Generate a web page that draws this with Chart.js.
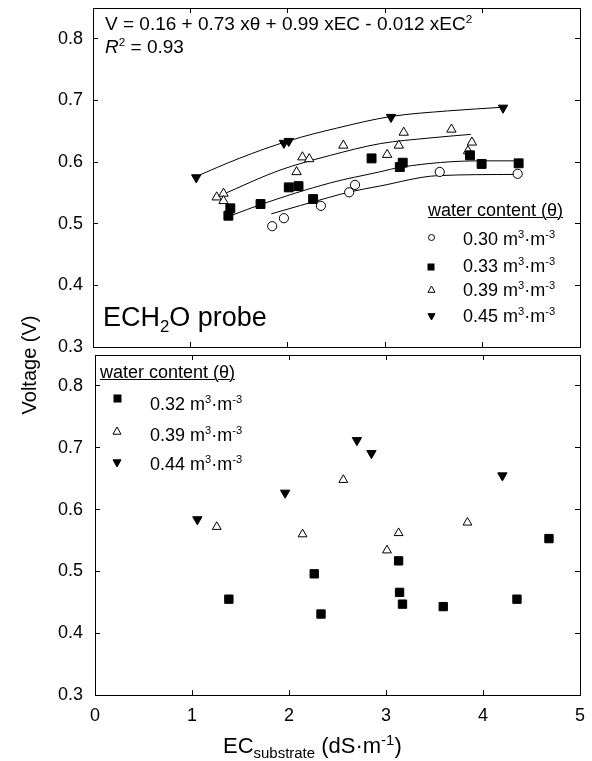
<!DOCTYPE html>
<html>
<head>
<meta charset="utf-8">
<title>ECH2O probe voltage vs substrate EC</title>
<script src="https://cdn.jsdelivr.net/npm/chart.js@4.4.1/dist/chart.umd.min.js"></script>
<style>
  html, body { margin: 0; padding: 0; background: #fff; }
  #wrap { position: relative; width: 592px; height: 761px; overflow: hidden;
          font-family: "Liberation Sans", Arial, sans-serif; color: #000; }
  canvas { position: absolute; left: 0; }
  #topChart { top: 0; }
  #bottomChart { top: 348px; }
  .txt { position: absolute; white-space: nowrap; line-height: 1; font-size: 18px; }
  .txt sup, .txt sub { font-size: 0.62em; line-height: 0; }
  .u { text-decoration: underline; text-decoration-thickness: 1px; }
  .mk { position: absolute; overflow: visible; }
</style>
</head>
<body>
<div id="wrap">
  <canvas id="topChart" width="592" height="360"></canvas>
  <canvas id="bottomChart" width="592" height="413"></canvas>

  <div class="txt" style="left:105px; top:14px; font-size:19px">V = 0.16 + 0.73 x&theta; + 0.99 xEC - 0.012 xEC<sup>2</sup></div>
  <div class="txt" style="left:105px; top:37px; font-size:19px"><i>R</i><sup>2</sup> = 0.93</div>
  <div class="txt" style="left:103px; top:304px; font-size:27px">ECH<sub>2</sub>O probe</div>

  <div class="txt u" style="left:428px; top:201px">water content (&theta;)</div>
  <div class="txt" style="left:463px; top:230px">0.30 m<sup>3</sup>&middot;m<sup>-3</sup></div>
  <div class="txt" style="left:463px; top:257px">0.33 m<sup>3</sup>&middot;m<sup>-3</sup></div>
  <div class="txt" style="left:463px; top:281px">0.39 m<sup>3</sup>&middot;m<sup>-3</sup></div>
  <div class="txt" style="left:463px; top:307px">0.45 m<sup>3</sup>&middot;m<sup>-3</sup></div>

  <div class="txt u" style="left:100px; top:363px">water content (&theta;)</div>
  <div class="txt" style="left:150px; top:395px">0.32 m<sup>3</sup>&middot;m<sup>-3</sup></div>
  <div class="txt" style="left:150px; top:426px">0.39 m<sup>3</sup>&middot;m<sup>-3</sup></div>
  <div class="txt" style="left:150px; top:455px">0.44 m<sup>3</sup>&middot;m<sup>-3</sup></div>

  <div class="txt" style="left:29px; top:365px; font-size:20px; transform: translate(-50%, -50%) rotate(-90deg)">Voltage (V)</div>
  <div class="txt" style="left:223px; top:735px; font-size:22px">EC<sub style="font-size:0.68em">substrate</sub> (dS&middot;m<sup style="font-size:0.68em">-1</sup>)</div>
</div>

<script>
// top panel: ECH2O probe, measured points
const ec30 = [1.84, 1.96, 2.34, 2.63, 2.69, 3.56, 4.36];
const v30 = [0.496, 0.509, 0.529, 0.551, 0.563, 0.584, 0.581];
const ec33 = [1.39, 1.41, 1.72, 2.01, 2.11, 2.26, 2.86, 3.15, 3.18, 3.87, 3.99, 4.37];
const v33 = [0.513, 0.525, 0.532, 0.559, 0.561, 0.540, 0.606, 0.592, 0.599, 0.611, 0.597, 0.598];
const ec39 = [1.27, 1.34, 1.34, 2.09, 2.15, 2.22, 2.57, 3.02, 3.14, 3.19, 3.68, 3.85, 3.89];
const v39 = [0.543, 0.549, 0.537, 0.584, 0.608, 0.605, 0.627, 0.612, 0.627, 0.648, 0.653, 0.618, 0.632];
const ec45 = [1.06, 1.96, 2.01, 3.06, 4.21];
const v45 = [0.575, 0.631, 0.634, 0.673, 0.688];

// top panel: fitted curves
const fitEc30 = [1.83, 2.43, 2.62, 2.94, 3.54, 4.34];
const fitV30 = [0.516, 0.543, 0.551, 0.561, 0.578, 0.580];
const fitEc33 = [1.43, 1.72, 2.43, 2.94, 3.17, 3.97, 4.35];
const fitV33 = [0.514, 0.531, 0.566, 0.584, 0.592, 0.602, 0.602];
const fitEc39 = [1.31, 1.92, 2.44, 2.95, 3.45, 3.88];
const fitV39 = [0.546, 0.587, 0.611, 0.630, 0.639, 0.645];
const fitEc45 = [1.05, 1.5, 2.02, 2.5, 3.06, 3.64, 4.21];
const fitV45 = [0.576, 0.606, 0.635, 0.655, 0.674, 0.683, 0.689];

// bottom panel
const ec32 = [1.38, 2.26, 2.33, 3.13, 3.14, 3.17, 3.59, 4.35, 4.68];
const v32 = [0.455, 0.496, 0.431, 0.517, 0.466, 0.447, 0.443, 0.455, 0.553];
const ec39b = [1.255, 2.14, 2.56, 3.01, 3.13, 3.84];
const v39b = [0.572, 0.560, 0.648, 0.534, 0.562, 0.579];
const ec44 = [1.055, 1.96, 2.70, 2.85, 4.20];
const v44 = [0.584, 0.627, 0.712, 0.691, 0.655];

const xTicks = [0, 1, 2, 3, 4, 5];
const yTicks = [0.3, 0.4, 0.5, 0.6, 0.7, 0.8];

document.addEventListener("DOMContentLoaded", () => {
    Chart.defaults.font.family = '"Liberation Sans", Arial, sans-serif';
    Chart.defaults.color = "#000";

    const pts = (xs, ys) => xs.map((x, i) => ({ x: x, y: ys[i] }));

    function marks(xs, ys, style, radius, fill, rotation) {
        return {
            data: pts(xs, ys),
            pointStyle: style,
            pointRadius: radius,
            pointRotation: rotation || 0,
            pointBackgroundColor: fill,
            pointBorderColor: "#000",
            pointBorderWidth: 1,
            showLine: false,
            order: 1
        };
    }

    function fitLine(xs, ys) {
        return {
            data: pts(xs, ys),
            showLine: true,
            borderColor: "#000",
            borderWidth: 1,
            pointRadius: 0,
            tension: 0.4,
            cubicInterpolationMode: "monotone",
            order: 2
        };
    }

    function panelScales(yWidth, xHeight, showXLabels, yPad) {
        const grid = { drawOnChartArea: false, drawTicks: true, tickLength: -5, color: "#000", tickColor: "#000", lineWidth: 1 };
        const edge = { display: true, color: "#000", width: 1 };
        const xBase = { type: "linear", min: xTicks[0], max: xTicks[xTicks.length - 1], grid: grid, border: edge };
        const yBase = { type: "linear", min: yTicks[0], max: 0.85, grid: grid, border: edge };
        return {
            x: Object.assign({}, xBase, {
                position: "bottom",
                ticks: { stepSize: 1, display: showXLabels, padding: 15, maxRotation: 0, font: { size: 18 } },
                afterFit: s => { s.height = xHeight; s.paddingLeft = 0; s.paddingRight = 0; }
            }),
            xTop: Object.assign({}, xBase, {
                position: "top",
                ticks: { stepSize: 1, display: false },
                afterFit: s => { s.height = 0; s.paddingLeft = 0; s.paddingRight = 0; }
            }),
            y: Object.assign({}, yBase, {
                position: "left",
                ticks: { stepSize: 0.1, includeBounds: false, padding: yPad, font: { size: 18 } },
                afterFit: s => { s.width = yWidth; s.paddingTop = 0; s.paddingBottom = 0; }
            }),
            yRight: Object.assign({}, yBase, {
                position: "right",
                ticks: { stepSize: 0.1, includeBounds: false, display: false },
                afterFit: s => { s.width = 0; s.paddingTop = 0; s.paddingBottom = 0; }
            })
        };
    }

    const common = {
        responsive: false,
        animation: false,
        devicePixelRatio: 1,
        plugins: { legend: { display: false }, tooltip: { enabled: false } }
    };

    new Chart(document.getElementById("topChart"), {
        type: "scatter",
        data: {
            datasets: [
                fitLine(fitEc30, fitV30),
                fitLine(fitEc33, fitV33),
                fitLine(fitEc39, fitV39),
                fitLine(fitEc45, fitV45),
                marks(ec30, v30, "circle", 4.6, "#fff"),
                marks(ec33, v33, "rect", 6.3, "#000"),
                marks(ec39, v39, "triangle", 5.4, "#fff"),
                marks(ec45, v45, "triangle", 5.4, "#000", 180)
            ]
        },
        options: Object.assign({}, common, {
            layout: { padding: { top: 8, right: 12, left: 0, bottom: 0 } },
            scales: panelScales(93, 13, false, 15)
        })
    });

    new Chart(document.getElementById("bottomChart"), {
        type: "scatter",
        data: {
            datasets: [
                marks(ec32, v32, "rect", 5.9, "#000"),
                marks(ec39b, v39b, "triangle", 5.1, "#fff"),
                marks(ec44, v44, "triangle", 5.4, "#000", 180)
            ]
        },
        options: Object.assign({}, common, {
            layout: { padding: { top: 7, right: 12, left: 0, bottom: 0 } },
            scales: panelScales(95, 66, true, 17)
        })
    });

    // small legend symbols next to the HTML legend text
    const svgNS = "http://www.w3.org/2000/svg";
    function icon(shape, cx, cy, size, fill) {
        const svg = document.createElementNS(svgNS, "svg");
        const box = size + 2;
        svg.setAttribute("width", box);
        svg.setAttribute("height", box);
        svg.setAttribute("class", "mk");
        svg.style.left = (cx - box / 2) + "px";
        svg.style.top = (cy - box / 2) + "px";
        const h = size / 2, c = box / 2;
        let el;
        if (shape === "circle") {
            el = document.createElementNS(svgNS, "circle");
            el.setAttribute("cx", c); el.setAttribute("cy", c); el.setAttribute("r", h - 0.5);
        } else if (shape === "rect") {
            el = document.createElementNS(svgNS, "rect");
            el.setAttribute("x", c - h); el.setAttribute("y", c - h);
            el.setAttribute("width", size); el.setAttribute("height", size);
        } else {
            el = document.createElementNS(svgNS, "polygon");
            const up = shape === "up";
            const tip = up ? c - h : c + h, base = up ? c + h * 0.8 : c - h * 0.8;
            el.setAttribute("points", `${c},${tip} ${c + h},${base} ${c - h},${base}`);
        }
        el.setAttribute("fill", fill);
        el.setAttribute("stroke", "#000");
        el.setAttribute("stroke-width", "1");
        svg.appendChild(el);
        document.getElementById("wrap").appendChild(svg);
    }

    icon("circle", 431, 237, 7, "#fff");
    icon("rect", 431, 266.5, 6, "#000");
    icon("up", 431, 289.5, 7, "#fff");
    icon("down", 431, 316.5, 7, "#000");

    icon("rect", 117, 398.5, 7, "#000");
    icon("up", 117, 430.5, 8, "#fff");
    icon("down", 117, 462.5, 8, "#000");
});
</script>
</body>
</html>
